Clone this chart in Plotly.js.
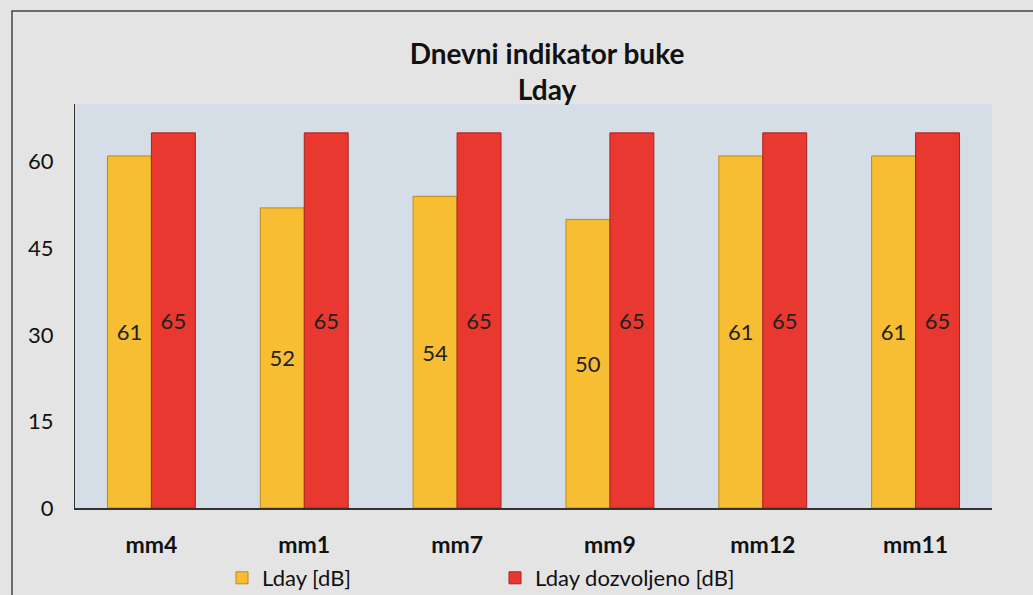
<!DOCTYPE html>
<html>
<head>
<meta charset="utf-8">
<script src="https://cdn.plot.ly/plotly-3.0.1.min.js"></script>
<style>
html,body{margin:0;padding:0;background:#e3e3e3;}
#chart{width:1033px;height:595px;}
</style>
</head>
<body>
<div id="chart"></div>
<script>
const categories = ['mm4', 'mm1', 'mm7', 'mm9', 'mm12', 'mm11'];
const ldayValues = [61, 52, 54, 50, 61, 61];
const ldayAllowed = [65, 65, 65, 65, 65, 65];
const seriesNames = ['Lday [dB]', 'Lday dozvoljeno [dB]'];
const yTicks = [0, 15, 30, 45, 60];
const titleLines = ['Dnevni indikator buke', 'Lday'];

const FONT = 'Lato, "Open Sans", sans-serif';

const traces = [
  {
    type: 'bar', name: seriesNames[0], x: categories, y: ldayValues,
    text: ldayValues.map(String), textposition: 'inside', insidetextanchor: 'middle',
    textangle: 0, constraintext: 'none',
    textfont: {family: FONT, size: 22, color: '#222'},
    marker: {color: '#f8be33', line: {color: '#b98a20', width: 1}},
    hoverinfo: 'x+y'
  },
  {
    type: 'bar', name: seriesNames[1], x: categories, y: ldayAllowed,
    text: ldayAllowed.map(String), textposition: 'inside', insidetextanchor: 'middle',
    textangle: 0, constraintext: 'none',
    textfont: {family: FONT, size: 22, color: '#222'},
    marker: {color: '#e8382f', line: {color: '#a82420', width: 1}},
    hoverinfo: 'x+y'
  }
];

const L = 75, T = 104, W = 917, H = 404;
const layout = {
  width: 1033, height: 595,
  margin: {l: L, r: 1033 - L - W, t: T, b: 595 - T - H, pad: 0, autoexpand: false},
  paper_bgcolor: '#e4e4e4',
  plot_bgcolor: '#d5dde6',
  font: {family: FONT, color: '#111'},
  title: {
    text: '<b>' + titleLines.join('<br>') + '</b>',
    font: {family: FONT, size: 28, color: '#111'},
    x: 547 / 1033, xref: 'container', xanchor: 'center',
    y: 1 - 64 / 595, yref: 'container', yanchor: 'top'
  },
  barmode: 'group',
  bargap: 0.425,
  bargroupgap: 0,
  showlegend: true,
  legend: {
    orientation: 'h', xref: 'container', yref: 'container',
    x: 222 / 1033, xanchor: 'left',
    y: 1 - 578 / 595, yanchor: 'middle',
    font: {family: FONT, size: 22, color: '#111'},
    entrywidth: 228, entrywidthmode: 'pixels',
    itemwidth: 30, bgcolor: 'rgba(0,0,0,0)'
  },
  xaxis: {
    type: 'category', showgrid: false, zeroline: false,
    showline: true, linecolor: '#333', linewidth: 1.5,
    ticks: '', ticklabelstandoff: 16,
    tickfont: {family: FONT, size: 23, color: '#111', weight: 'bold'}
  },
  yaxis: {
    range: [0, 70], tickvals: yTicks, ticktext: yTicks.map(String),
    showgrid: false, zeroline: false,
    showline: true, linecolor: '#333', linewidth: 1,
    ticks: '', ticklabelstandoff: 16,
    tickfont: {family: FONT, size: 22, color: '#111'}
  },
  shapes: [
    {
      type: 'rect', xref: 'paper', yref: 'paper',
      x0: (12 - L) / W, x1: (1040 - L) / W,
      y0: (T + H - 600) / H, y1: (T + H - 11) / H,
      line: {color: '#444', width: 1.5}, fillcolor: 'rgba(0,0,0,0)', layer: 'below'
    }
  ]
};

Plotly.newPlot('chart', traces, layout, {displayModeBar: false, staticPlot: true});
</script>
</body>
</html>
